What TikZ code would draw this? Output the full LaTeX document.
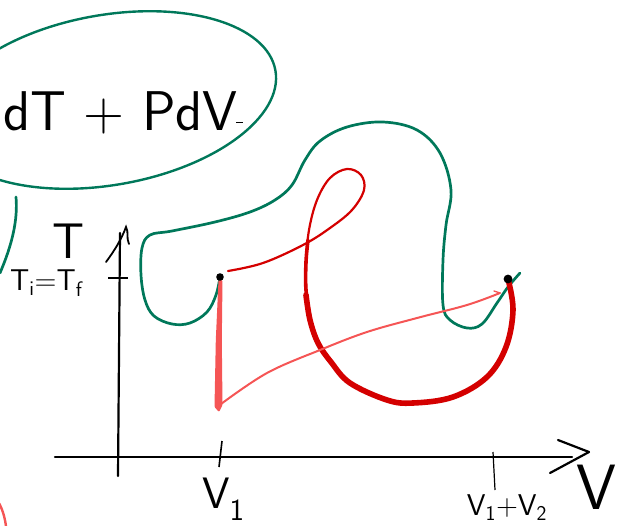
\documentclass[tikz,border=0pt]{standalone}
\usepackage{xcolor}
\usepackage{tikz}
\usetikzlibrary{arrows.meta,positioning,calc}

\definecolor{inkgreen}{HTML}{00785A}
\definecolor{inkred}{HTML}{D40000}
\definecolor{inksalmon}{HTML}{F55555}

\begin{document}
\begin{tikzpicture}[
    x=1pt, y=-1pt,
    node distance=4pt,
    greenline/.style={draw=inkgreen, line width=2.7pt, line cap=round, line join=round},
    redthin/.style={draw=inkred, line width=2.2pt, line cap=round},
    redthick/.style={draw=inkred, line width=5.6pt, line cap=round},
    salmonline/.style={draw=inksalmon, line width=2pt, line cap=round},
    axisline/.style={draw=black, line width=2.2pt, line cap=round, line join=round},
    handlbl/.style={font=\sffamily, inner sep=0pt, text=black}
]
\useasboundingbox (0,0) rectangle (624,525);
\clip (0,0) rectangle (624,525);

% points on the curves
\coordinate (dotL) at (220,277);
\coordinate (dotR) at (508,279);

% bubble with the energy balance
\draw[inkgreen, line width=2.4pt, rotate around={10:(108,100)}] (108,100) ellipse [x radius=170, y radius=85];
\node[handlbl, font=\sffamily\fontsize{56}{60}\selectfont, anchor=base east] (energy) at (238,130) {dT + PdV};
\draw[black, line width=1pt] (236,122) -- (243,122);
\draw[greenline] (16,197) .. controls (18,220) and (12,245) .. (0,273);
\draw[inksalmon, line width=2.4pt] (-6,496) .. controls (0,503) and (4,512) .. (6,526);

% axes
\coordinate (origin) at (118,457);
\draw[axisline] (55,457) -- (572,457);
\draw[axisline] (589,452) -- (558,440);
\draw[axisline] (589,452) -- (550,473);
\draw[axisline] (118,476) -- (120,233);
\draw[black, line width=1.8pt, line cap=round] (106,262) .. controls (115,250) and (122,238) .. (126,227)
    .. controls (129,232) and (126,238) .. (129,244);
\draw[black, line width=1.6pt] (108,278) -- (128,278);
\coordinate (tickA) at (219,467);
\coordinate (tickB) at (495,490);
\draw[black, line width=1.6pt] (222,441) -- (tickA);
\draw[black, line width=1.2pt] (493,452) -- (tickB);

% labels
\node[handlbl, font=\sffamily\fontsize{50}{54}\selectfont, anchor=base] (lblT) at (69,258) {T};
\node[handlbl, font=\sffamily\fontsize{30}{34}\selectfont, anchor=base west] (lblTT) at (10,290) {T\textsubscript{i}=T\textsubscript{f}};
\node[handlbl, font=\sffamily\fontsize{44}{48}\selectfont, anchor=base west] (lblVa) at (202,508) {V\textsubscript{1}};
\node[handlbl, font=\sffamily\fontsize{30}{34}\selectfont, below=4pt of tickB, xshift=12pt] (lblVb) {V\textsubscript{1}+V\textsubscript{2}};
\node[handlbl, font=\sffamily\fontsize{64}{68}\selectfont, anchor=base] (lblV) at (596,509) {V};

% big green path
\draw[greenline] plot[smooth, tension=0.6] coordinates {
    (dotL) (216,295) (207,312) (190,323) (172,324) (154,316) (145,300) (141,275) (142,248)
    (150,235) (172,231) (215,222) (250,212) (275,200) (292,185) (305,160) (320,141)
    (347,127) (383,122) (417,130) (440,153) (451,190) (446,225) (443,260) (443,305)
    (450,320) (467,328) (482,324) (497,303) (508,287) (520,273)};

% red path: thin loop, then thick bowl
\draw[redthin] plot[smooth, tension=0.6] coordinates {
    (228,271) (263,263) (303,245) (330,228) (352,210) (364,190) (361,175) (347,169)
    (330,178) (317,200) (309,230) (306,262) (306,290)};
\draw[inkred, line width=3.6pt, line cap=round] plot[smooth, tension=0.6] coordinates {
    (308,240) (306,262) (306,290) (310,318)};
\draw[redthick] plot[smooth, tension=0.6] coordinates {
    (306,295) (310,320) (318,343) (331,362) (350,383) (387,400) (413,403) (453,397)
    (487,377) (506,347) (513,310) (dotR)};

% salmon path
\fill[inksalmon, rounded corners=1pt] (218.5,280) -- (222.5,280) -- (221.8,340) -- (222.5,405)
    -- (219,412) -- (214.5,407) -- (215.8,340) -- cycle;
\draw[salmonline] plot[smooth, tension=0.6] coordinates {
    (221,404) (267,373) (320,350) (367,332) (417,318) (467,305) (500,293)};
\draw[salmonline, line width=1.4pt] (500,293) -- (494,291);

% state dots
\fill[black] (dotL) circle [radius=3.8];
\fill[black] (dotR) circle [radius=4.4];
\end{tikzpicture}
\end{document}
